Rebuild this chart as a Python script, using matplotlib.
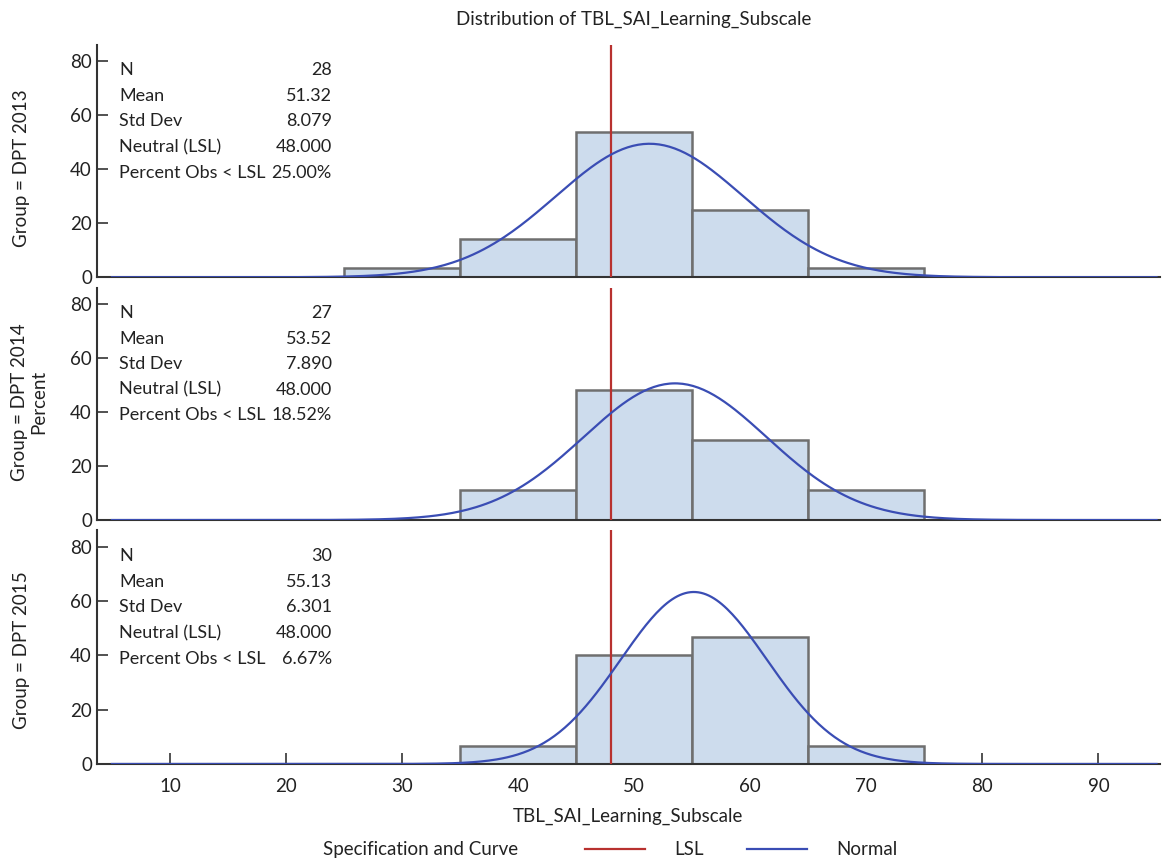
import numpy as np
import matplotlib
matplotlib.use("Agg")
import matplotlib.pyplot as plt
from matplotlib.lines import Line2D

plt.rcParams['font.family'] = ['Lato', 'DejaVu Sans']

# Datos
grupos = ["DPT 2013", "DPT 2014", "DPT 2015"]
bordes = [25, 35, 45, 55, 65, 75]
porcentajes = [
    [3.57, 14.29, 53.57, 25.00, 3.57],
    [0.0, 11.11, 48.15, 29.63, 11.11],
    [0.0, 6.67, 40.00, 46.67, 6.67],
]
n_obs = [28, 27, 30]
medias = [51.32, 53.52, 55.13]
desv = [8.079, 7.890, 6.301]
lsl = 48.0
pct_bajo = ["25.00%", "18.52%", "6.67%"]
xticks = [10, 20, 30, 40, 50, 60, 70, 80, 90]
yticks = [0, 20, 40, 60, 80]

col_barra = "#cddced"
col_borde = "#6f6f6f"
col_lsl = "#b8312f"
col_normal = "#3a4db4"
col_eje = "#333333"
col_txt = "#222222"

fig = plt.figure(figsize=(11.67, 8.61), dpi=100)

izq, der = 0.083, 0.994
paneles = [(0.678, 0.948), (0.396, 0.666), (0.1127, 0.384)]

ejes = []
for i, (abajo, arriba) in enumerate(paneles):
    ax = fig.add_axes([izq, abajo, der - izq, arriba - abajo])
    ejes.append(ax)
    anchos = np.diff(bordes)
    izqs = np.array(bordes[:-1])
    vals = np.array(porcentajes[i])
    m = vals > 0
    ax.bar(izqs[m], vals[m], width=anchos[m], align='edge', color=col_barra,
           edgecolor=col_borde, linewidth=1.8, zorder=2)
    # curva normal ajustada (escala porcentaje, ancho de clase 10)
    x = np.linspace(5, 95, 400)
    y = 10 * 100 * np.exp(-0.5 * ((x - medias[i]) / desv[i]) ** 2) / (desv[i] * np.sqrt(2 * np.pi))
    ax.plot(x, y, color=col_normal, linewidth=1.6, zorder=4)
    ax.axvline(lsl, color=col_lsl, linewidth=1.6, zorder=3)

    ax.set_xlim(3.7, 95.3)
    ax.set_ylim(0, 86)
    ax.set_yticks(yticks)
    ax.set_xticks(xticks)
    for s in ['top', 'right']:
        ax.spines[s].set_visible(False)
    for s in ['left', 'bottom']:
        ax.spines[s].set_color(col_eje)
        ax.spines[s].set_linewidth(1.5)
    ax.tick_params(direction='in', length=8, width=1.2, color=col_eje,
                   labelsize=13.5, labelcolor=col_txt)
    if i < 2:
        ax.tick_params(axis='x', bottom=False, labelbottom=False)
    else:
        ax.tick_params(axis='x', pad=10)

    # tabla de estadisticas
    filas = [("N", str(n_obs[i])), ("Mean", f"{medias[i]:.2f}"),
             ("Std Dev", f"{desv[i]:.3f}"), ("Neutral (LSL)", f"{lsl:.3f}"),
             ("Percent Obs < LSL", pct_bajo[i])]
    for k, (etq, val) in enumerate(filas):
        yy = 0.89 - k * 0.11
        ax.text(0.021, yy, etq, transform=ax.transAxes, fontsize=13,
                va='center', ha='left', color=col_txt)
        ax.text(0.221, yy, val, transform=ax.transAxes, fontsize=13,
                va='center', ha='right', color=col_txt)

# etiquetas de grupo
fig.text(0.018, 0.805, "Group = DPT 2013", rotation=90, ha='center', va='center',
         fontsize=13.5, color=col_txt)
fig.text(0.025, 0.533, "Group = DPT 2014\nPercent", rotation=90, ha='center', va='center',
         fontsize=13.5, color=col_txt, linespacing=1.1, multialignment='center')
fig.text(0.018, 0.245, "Group = DPT 2015", rotation=90, ha='center', va='center',
         fontsize=13.5, color=col_txt)

ejes[2].set_xlabel("TBL_SAI_Learning_Subscale", fontsize=13.5, color=col_txt, labelpad=9)
fig.text(0.543, 0.978, "Distribution of TBL_SAI_Learning_Subscale", ha='center',
         va='center', fontsize=13.5, color=col_txt)

# leyenda
manejadores = [Line2D([], [], color=col_lsl, linewidth=1.6),
               Line2D([], [], color=col_normal, linewidth=1.6)]
ley = fig.legend(manejadores, ["LSL", "Normal"], loc='center', ncol=2,
                 bbox_to_anchor=(0.635, 0.013), frameon=False, fontsize=13.5,
                 handlelength=3.2, columnspacing=2.3, handletextpad=1.55)
for t in ley.get_texts():
    t.set_color(col_txt)
fig.text(0.36, 0.013, "Specification and Curve", ha='center', va='center',
         fontsize=13.5, color=col_txt)

fig.savefig("out.png", dpi=100)
